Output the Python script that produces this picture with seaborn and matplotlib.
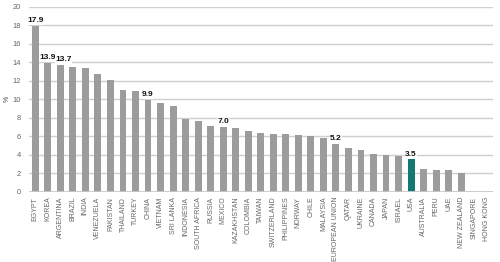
import matplotlib
matplotlib.use("Agg")
import matplotlib.pyplot as plt
import seaborn as sns
import pandas as pd

countries = ["EGYPT", "KOREA", "ARGENTINA", "BRAZIL", "INDIA", "VENEZUELA", "PAKISTAN",
             "THAILAND", "TURKEY", "CHINA", "VIETNAM", "SRI LANKA", "INDONESIA",
             "SOUTH AFRICA", "RUSSIA", "MEXICO", "KAZAKHSTAN", "COLOMBIA", "TAIWAN",
             "SWITZERLAND", "PHILIPPINES", "NORWAY", "CHILE", "MALAYSIA",
             "EUROPEAN UNION", "QATAR", "UKRAINE", "CANADA", "JAPAN", "ISRAEL", "USA",
             "AUSTRALIA", "PERU", "UAE", "NEW ZEALAND", "SINGAPORE", "HONG KONG"]
values = [17.9, 13.9, 13.7, 13.5, 13.4, 12.7, 12.1,
          11.0, 10.9, 9.9, 9.6, 9.3, 7.9,
          7.7, 7.1, 7.0, 6.9, 6.6, 6.4,
          6.3, 6.3, 6.1, 6.0, 5.8,
          5.2, 4.7, 4.5, 4.1, 4.0, 3.9, 3.5,
          2.5, 2.4, 2.4, 2.0, 0.0, 0.0]
labelled = ["EGYPT", "KOREA", "ARGENTINA", "CHINA", "MEXICO", "EUROPEAN UNION", "USA"]
highlight = "USA"
yticks = [0, 2, 4, 6, 8, 10, 12, 14, 16, 18, 20]

df = pd.DataFrame({"country": countries, "value": values})
df["group"] = ["hl" if c == highlight else "base" for c in countries]

sns.set_style("white")
plt.rcParams["font.family"] = ["Liberation Sans", "DejaVu Sans"]

fig = plt.figure(figsize=(5, 2.62), dpi=100)
ax = fig.add_axes([0.058, 0.268, 0.927, 0.706])

sns.barplot(data=df, x="country", y="value", hue="group",
            palette={"base": "#9c9c9c", "hl": "#137a73"},
            width=0.55, dodge=False, legend=False, ax=ax,
            saturation=1, linewidth=0)
for p in ax.patches:
    p.set_zorder(5)

for t in yticks[1:]:
    ax.axhline(t, color="#cfcfcf", linewidth=1.0, zorder=0.5)
ax.axhline(0, color="#c8c8c8", linewidth=1.3, zorder=6)

ax.set_ylim(0, 20)
ax.set_xlim(-0.5, len(countries) - 0.5)
ax.set_yticks(yticks)
ax.set_yticklabels([str(t) for t in yticks])
ax.grid(False)
for s in ["top", "right", "left", "bottom"]:
    ax.spines[s].set_visible(False)

ax.tick_params(axis="y", length=0, labelsize=5.4, labelcolor="#666666", pad=6)
ax.tick_params(axis="x", length=0, labelsize=5.0, labelcolor="#666666", pad=3.5,
               labelrotation=90)
ax.set_xlabel("")
ax.set_ylabel("%", fontsize=5, color="#444444", labelpad=1)

nudge = {"ARGENTINA": 0.25}
for i, (c, v) in enumerate(zip(countries, values)):
    if c in labelled:
        ax.text(i + nudge.get(c, 0), v + 0.2, f"{v:.1f}", ha="center", va="bottom",
                fontsize=6.0, fontweight="bold", color="#111111",
                bbox=dict(facecolor="white", edgecolor="none", pad=0.3),
                zorder=7)

fig.savefig("out.png", dpi=100)
